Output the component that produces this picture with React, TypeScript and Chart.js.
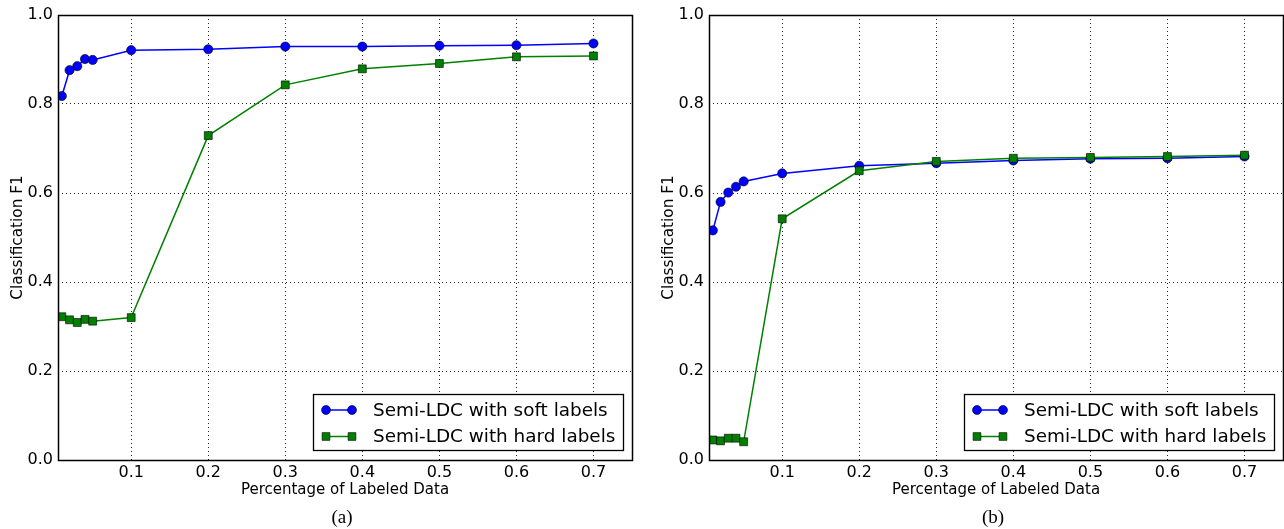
import React, { useEffect, useRef } from "react";
import { Chart, registerables } from "chart.js";

Chart.register(...registerables);

const xValues = [0.01, 0.02, 0.03, 0.04, 0.05, 0.1, 0.2, 0.3, 0.4, 0.5, 0.6, 0.7];
const xTicks = [0.1, 0.2, 0.3, 0.4, 0.5, 0.6, 0.7];

const softA = [0.818, 0.876, 0.885, 0.901, 0.899, 0.921, 0.923, 0.929, 0.929, 0.931, 0.932, 0.936];
const hardA = [0.322, 0.315, 0.309, 0.316, 0.312, 0.32, 0.729, 0.843, 0.879, 0.891, 0.906, 0.908];

const softB = [0.516, 0.58, 0.601, 0.614, 0.626, 0.644, 0.661, 0.667, 0.673, 0.677, 0.678, 0.682];
const hardB = [0.045, 0.043, 0.049, 0.049, 0.041, 0.542, 0.65, 0.671, 0.678, 0.68, 0.682, 0.685];

const seriesLabels = ["Semi-LDC with soft labels", "Semi-LDC with hard labels"];
const captions = ["(a)", "(b)"];
const xTitle = "Percentage of Labeled Data";
const yTitle = "Classification F1";

const SANS = "'DejaVu Sans', sans-serif";
const BLUE = "#0000ff";
const GREEN = "#008000";

function makeConfig(soft: number[], hard: number[], caption: string): any {
  const framePlugin = {
    id: "frame",
    afterDatasetsDraw(chart: any) {
      const { ctx, chartArea: a } = chart;
      ctx.save();
      ctx.strokeStyle = "#000";
      ctx.lineWidth = 1.5;
      ctx.strokeRect(Math.round(a.left) + 0.5, Math.round(a.top) + 0.5, Math.round(a.right - a.left), Math.round(a.bottom - a.top));
      ctx.restore();
    },
  };
  const legendPlugin = {
    id: "insideLegend",
    afterDraw(chart: any) {
      const { ctx, chartArea: a } = chart;
      const w = 310;
      const h = 56;
      const right = Math.round(a.right) - 9;
      const bottom = Math.round(a.bottom) - 10;
      const left = right - w;
      const top = bottom - h;
      ctx.save();
      ctx.fillStyle = "#fff";
      ctx.fillRect(left, top, w, h);
      ctx.strokeStyle = "#000";
      ctx.lineWidth = 1.3;
      ctx.strokeRect(left + 0.5, top + 0.5, w, h);
      const rows = [
        { label: seriesLabels[0], color: BLUE, style: "circle", r: 4.5 },
        { label: seriesLabels[1], color: GREEN, style: "rect", r: 5.5 },
      ];
      rows.forEach((row, i) => {
        const cy = top + 16 + i * 26.5;
        ctx.strokeStyle = row.color;
        ctx.lineWidth = 1.5;
        ctx.beginPath();
        ctx.moveTo(left + 13, cy);
        ctx.lineTo(left + 39, cy);
        ctx.stroke();
        [left + 13, left + 39].forEach((px) => {
          ctx.fillStyle = row.color;
          ctx.strokeStyle = "#000";
          ctx.lineWidth = 0.6;
          ctx.beginPath();
          if (row.style === "circle") {
            ctx.arc(px, cy, row.r, 0, Math.PI * 2);
          } else {
            const s = row.r * Math.SQRT1_2;
            ctx.rect(px - s, cy - s, 2 * s, 2 * s);
          }
          ctx.fill();
          ctx.stroke();
        });
        ctx.fillStyle = "#000";
        ctx.font = "18.4px " + SANS;
        ctx.textBaseline = "middle";
        ctx.textAlign = "left";
        ctx.fillText(row.label, left + 60, cy + 1);
      });
      ctx.restore();
    },
  };
  const captionPlugin = {
    id: "caption",
    afterDraw(chart: any) {
      const { ctx, chartArea: a } = chart;
      ctx.save();
      ctx.fillStyle = "#000";
      ctx.font = "19px 'Liberation Serif', 'Times New Roman', serif";
      ctx.textAlign = "center";
      ctx.textBaseline = "middle";
      ctx.fillText(caption, (a.left + a.right) / 2 - 3, 518);
      ctx.restore();
    },
  };

  const gridCommon = {
    drawTicks: false,
    color: "rgba(0,0,0,0.85)",
    lineWidth: 1,
  };

  return {
    type: "line",
    data: {
      datasets: [
        {
          label: seriesLabels[0],
          data: xValues.map((x, i) => ({ x, y: soft[i] })),
          borderColor: BLUE,
          backgroundColor: BLUE,
          borderWidth: 1.5,
          pointStyle: "circle",
          pointRadius: 4.6,
          pointBorderColor: "#000",
          pointBorderWidth: 0.6,
          pointBackgroundColor: BLUE,
          order: 1,
        },
        {
          label: seriesLabels[1],
          data: xValues.map((x, i) => ({ x, y: hard[i] })),
          borderColor: GREEN,
          backgroundColor: GREEN,
          borderWidth: 1.5,
          pointStyle: "rect",
          pointRadius: 5.6,
          pointBorderColor: "#000",
          pointBorderWidth: 0.6,
          pointBackgroundColor: GREEN,
          order: 0,
        },
      ],
    },
    options: {
      responsive: false,
      animation: false,
      events: [],
      layout: { padding: { top: 15, right: 10, left: 0, bottom: 0 } },
      plugins: { legend: { display: false }, tooltip: { enabled: false } },
      scales: {
        x: {
          type: "linear",
          min: 0.005,
          max: 0.75,
          afterBuildTicks(scale: any) {
            scale.ticks = xTicks.map((v) => ({ value: v }));
          },
          afterFit(scale: any) {
            scale.height = 69;
            scale.paddingLeft = 0;
            scale.paddingRight = 0;
          },
          ticks: {
            color: "#000",
            font: { family: SANS, size: 16 },
            padding: 3,
            maxRotation: 0,
            autoSkip: false,
            callback: (v: any) => Number(v).toFixed(1),
          },
          grid: gridCommon,
          border: { display: false, dash: [1, 3] },
          title: {
            display: true,
            text: xTitle,
            color: "#000",
            font: { family: SANS, size: 15 },
            padding: { top: 0, bottom: 30 },
          },
        },
        y: {
          type: "linear",
          min: 0,
          max: 1,
          afterFit(scale: any) {
            scale.width = 58;
          },
          ticks: {
            stepSize: 0.2,
            color: "#000",
            font: { family: SANS, size: 16 },
            padding: 5,
            callback: (v: any) => Number(v).toFixed(1),
          },
          grid: gridCommon,
          border: { display: false, dash: [1, 3] },
          title: {
            display: true,
            text: yTitle,
            color: "#000",
            font: { family: SANS, size: 15.3 },
            padding: { top: 8.5, bottom: 0 },
          },
        },
      },
    },
    plugins: [framePlugin, legendPlugin, captionPlugin],
  };
}

function Panel(props: { soft: number[]; hard: number[]; caption: string; left: number }) {
  const ref = useRef<HTMLCanvasElement | null>(null);
  useEffect(() => {
    if (!ref.current) return;
    const chart = new Chart(ref.current, makeConfig(props.soft, props.hard, props.caption));
    return () => chart.destroy();
  }, []);
  return (
    <div style={{ position: "absolute", left: props.left, top: 0, width: 642, height: 529 }}>
      <canvas ref={ref} width={642} height={529} style={{ width: 642, height: 529, display: "block" }} />
    </div>
  );
}

export default function App() {
  return (
    <div style={{ position: "fixed", left: 0, top: 0, width: 1284, height: 529, background: "#fff", overflow: "hidden" }}>
      <Panel soft={softA} hard={hardA} caption={captions[0]} left={0} />
      <Panel soft={softB} hard={hardB} caption={captions[1]} left={651} />
    </div>
  );
}
